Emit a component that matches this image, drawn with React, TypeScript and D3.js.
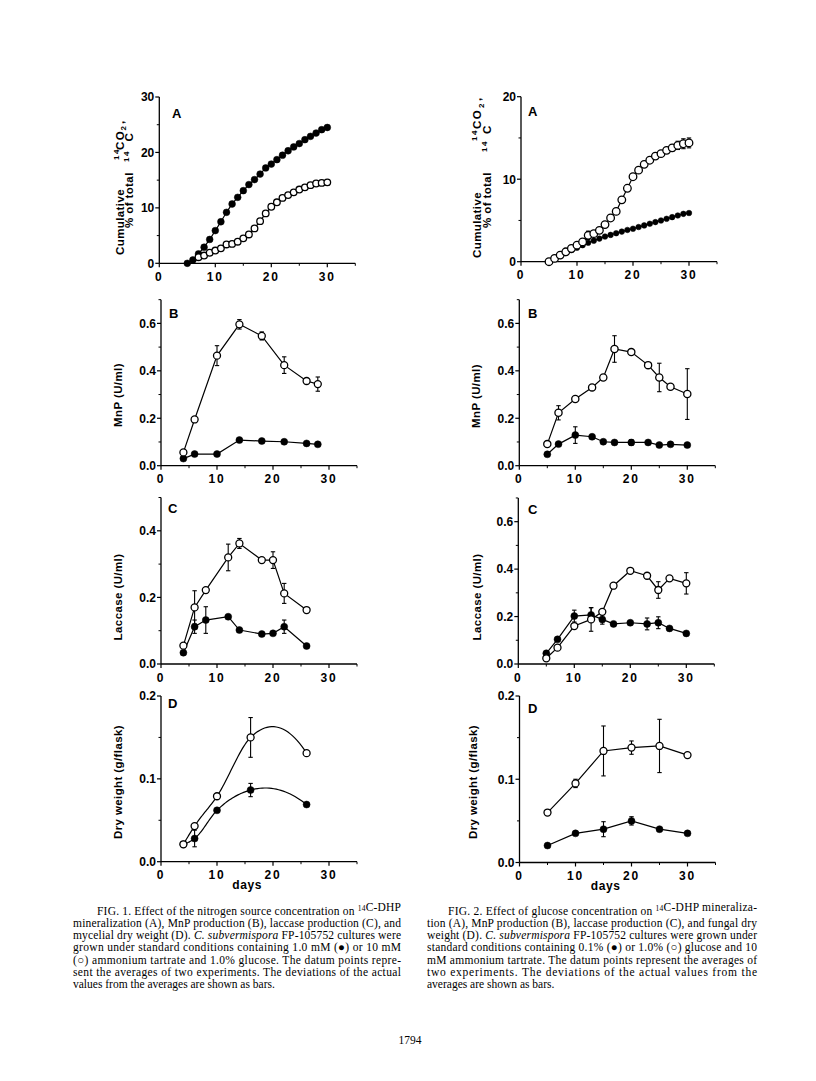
import React from "react";
import * as d3 from "d3";

// ================= FIG. 1 data =================
// A: cumulative 14CO2 (% of total 14C)
const f1aFilledDays = [5, 6, 7, 8, 9, 10, 11, 12, 13, 14, 15, 16, 17, 18, 19, 20, 21, 22, 23, 24, 25, 26, 27, 28, 29, 30];
const f1aFilled = [0, 0.6, 1.7, 2.9, 4.3, 5.9, 7.5, 9.2, 10.7, 11.9, 13.1, 14.2, 15.1, 16.1, 17.2, 17.9, 18.7, 19.5, 20.3, 21.0, 21.6, 22.3, 22.9, 23.5, 24.1, 24.5];
const f1aOpenDays = [7, 8, 9, 10, 11, 12, 13, 14, 15, 16, 17, 18, 19, 20, 21, 22, 23, 24, 25, 26, 27, 28, 29, 30];
const f1aOpen = [1.1, 1.4, 1.9, 2.3, 2.7, 3.4, 3.5, 3.9, 4.5, 5.2, 6.3, 7.6, 9.0, 10.2, 11.0, 11.8, 12.3, 12.8, 13.3, 13.7, 14.1, 14.4, 14.5, 14.6];
const f1aOpenErr = [0, 0, 0, 0, 0, 0, 0, 0, 0, 0, 0, 0, 0, 0, 0, 0, 0, 0, 0, 0, 0, 0, 0.4, 0.5];

// B: MnP (U/ml)
const f1bDays = [4, 6, 10, 14, 18, 22, 26, 28];
const f1bOpen = [0.056, 0.195, 0.464, 0.596, 0.547, 0.424, 0.357, 0.344];
const f1bOpenErr = [0, 0, 0.042, 0.02, 0.017, 0.035, 0, 0.03];
const f1bFilled = [0.03, 0.049, 0.049, 0.108, 0.104, 0.101, 0.094, 0.09];

// C: Laccase (U/ml)
const f1cDays = [4, 6, 8, 12, 14, 18, 20, 22, 26];
const f1cOpen = [0.055, 0.17, 0.222, 0.32, 0.362, 0.312, 0.312, 0.212, 0.162];
const f1cOpenErr = [0, 0.05, 0, 0.04, 0.015, 0, 0.025, 0.03, 0];
const f1cFilled = [0.034, 0.112, 0.132, 0.142, 0.102, 0.09, 0.092, 0.112, 0.054];
const f1cFilledErr = [0, 0.02, 0.04, 0, 0, 0, 0, 0.02, 0];

// D: Dry weight (g/flask)
const f1dDays = [4, 6, 10, 16, 26];
const f1dOpen = [0.021, 0.043, 0.079, 0.15, 0.131];
const f1dOpenErr = [0, 0, 0, 0.024, 0];
const f1dFilled = [0.021, 0.028, 0.062, 0.0865, 0.069];
const f1dFilledErr = [0, 0.01, 0, 0.008, 0];

// ================= FIG. 2 data =================
const f2aDays = [5, 6, 7, 8, 9, 10, 11, 12, 13, 14, 15, 16, 17, 18, 19, 20, 21, 22, 23, 24, 25, 26, 27, 28, 29, 30];
const f2aOpen = [0, 0.4, 0.8, 1.2, 1.6, 2.0, 2.4, 3.2, 3.4, 3.8, 4.5, 5.3, 6.1, 7.5, 8.9, 10.3, 11.1, 11.8, 12.3, 12.8, 13.1, 13.5, 13.8, 14.1, 14.3, 14.4];
const f2aOpenErr = [0, 0, 0, 0, 0, 0, 0, 0.5, 0, 0, 0, 0, 0, 0, 0, 0, 0, 0, 0, 0, 0, 0, 0.4, 0.5, 0.6, 0.6];
const f2aFilled = [0, 0.35, 0.7, 1.05, 1.4, 1.7, 2.0, 2.3, 2.55, 2.8, 3.05, 3.25, 3.45, 3.65, 3.85, 4.0, 4.2, 4.4, 4.6, 4.8, 5.0, 5.2, 5.4, 5.6, 5.8, 5.9];

const f2bDays = [5, 7, 10, 13, 15, 17, 20, 23, 25, 27, 30];
const f2bOpen = [0.091, 0.223, 0.281, 0.33, 0.372, 0.492, 0.479, 0.424, 0.372, 0.333, 0.302];
const f2bOpenErr = [0, 0.03, 0, 0, 0, 0.056, 0, 0, 0.06, 0, 0.107];
const f2bFilled = [0.048, 0.091, 0.129, 0.122, 0.101, 0.098, 0.098, 0.098, 0.087, 0.09, 0.087];
const f2bFilledErr = [0, 0, 0.035, 0, 0, 0, 0.012, 0, 0, 0, 0];

const f2cDays = [5, 7, 10, 13, 15, 17, 20, 23, 25, 27, 30];
const f2cOpen = [0.024, 0.069, 0.16, 0.188, 0.22, 0.33, 0.393, 0.372, 0.312, 0.361, 0.34];
const f2cOpenErr = [0, 0, 0, 0.05, 0, 0, 0, 0.012, 0.035, 0, 0.045];
const f2cFilled = [0.045, 0.104, 0.202, 0.207, 0.188, 0.169, 0.174, 0.169, 0.174, 0.15, 0.129];
const f2cFilledErr = [0, 0, 0.025, 0.03, 0.02, 0, 0, 0.025, 0.025, 0, 0];

const f2dDays = [5, 10, 15, 20, 25, 30];
const f2dOpen = [0.06, 0.095, 0.134, 0.138, 0.14, 0.129];
const f2dOpenErr = [0, 0.005, 0.03, 0.008, 0.032, 0];
const f2dFilled = [0.0204, 0.035, 0.04, 0.05, 0.04, 0.035];
const f2dFilledErr = [0, 0, 0.009, 0.005, 0, 0];

// axis ticks
const xMajor = [0, 10, 20, 30];
const xMinor = [5, 15, 25, 35];
const yTicksA1 = [0, 10, 20, 30];
const yMinorA1 = [5, 15, 25];
const yTicksA2 = [0, 10, 20];
const yMinorA2 = [5, 15];
const yTicksEnz = [0, 0.2, 0.4, 0.6];
const yMinorEnz = [0.1, 0.3, 0.5, 0.7];
const yTicksLac1 = [0, 0.2, 0.4];
const yMinorLac1 = [0.1, 0.3, 0.5];
const yTicksDW = [0, 0.1, 0.2];
const yMinorDW = [0.05, 0.15];

// captions
const cap1 = [
  "FIG. 1. Effect of the nitrogen source concentration on |14|C-DHP",
  "mineralization (A), MnP production (B), laccase production (C), and",
  "mycelial dry weight (D). _C. subvermispora_ FP-105752 cultures were",
  "grown under standard conditions containing 1.0 mM (●) or 10 mM",
  "(○) ammonium tartrate and 1.0% glucose. The datum points repre-",
  "sent the averages of two experiments. The deviations of the actual",
  "values from the averages are shown as bars.",
];
const cap2 = [
  "FIG. 2. Effect of glucose concentration on |14|C-DHP mineraliza-",
  "tion (A), MnP production (B), laccase production (C), and fungal dry",
  "weight (D). _C. subvermispora_ FP-105752 cultures were grown under",
  "standard conditions containing 0.1% (●) or 1.0% (○) glucose and 10",
  "mM ammonium tartrate. The datum points represent the averages of",
  "two experiments. The deviations of the actual values from the",
  "averages are shown as bars.",
];

const SANS = "'Liberation Sans', Arial, Helvetica, sans-serif";
const SERIF = "'Liberation Serif', 'Times New Roman', serif";

// smooth interpolating curve (cubic Hermite with parabolic/Bessel tangents)
function besselPoints(xs: number[], ys: number[], steps = 24): [number, number][] {
  const n = xs.length;
  if (n < 3) return xs.map((x, i) => [x, ys[i]]);
  const h: number[] = [];
  const d: number[] = [];
  for (let i = 0; i < n - 1; i++) {
    h.push(xs[i + 1] - xs[i]);
    d.push((ys[i + 1] - ys[i]) / (xs[i + 1] - xs[i]));
  }
  const m: number[] = new Array(n);
  m[0] = d[0] + ((d[0] - d[1]) * h[0]) / (h[0] + h[1]);
  for (let i = 1; i < n - 1; i++) m[i] = (h[i] * d[i - 1] + h[i - 1] * d[i]) / (h[i - 1] + h[i]);
  m[n - 1] = d[n - 2] + ((d[n - 2] - d[n - 3]) * h[n - 2]) / (h[n - 3] + h[n - 2]);
  const out: [number, number][] = [];
  for (let i = 0; i < n - 1; i++) {
    for (let s = 0; s <= steps; s++) {
      if (i > 0 && s === 0) continue;
      const t = s / steps;
      const t2 = t * t;
      const t3 = t2 * t;
      const h00 = 2 * t3 - 3 * t2 + 1;
      const h10 = t3 - 2 * t2 + t;
      const h01 = -2 * t3 + 3 * t2;
      const h11 = t3 - t2;
      out.push([
        xs[i] + t * h[i],
        h00 * ys[i] + h10 * h[i] * m[i] + h01 * ys[i + 1] + h11 * h[i] * m[i + 1],
      ]);
    }
  }
  return out;
}

type Series = { days: number[]; vals: number[]; errs?: number[]; filled: boolean; r: number };
type Cfg = {
  x0: number;
  yBase: number;
  yTop: number;
  yMax: number;
  major: number[];
  minor: number[];
  fmt: (v: number) => string;
  letter: string;
  lx: number;
  ly: number;
  series: Series[];
  smooth?: boolean;
  daysLabel?: boolean;
};

function Panel({ c }: { c: Cfg }) {
  const x = d3.scaleLinear().domain([0, 35]).range([c.x0, c.x0 + 35 * 5.6]);
  const y = d3.scaleLinear().domain([0, c.yMax]).range([c.yBase, c.yTop]);
  const line = d3
    .line<[number, number]>()
    .x((d) => x(d[0]))
    .y((d) => y(d[1]));
  return (
    <g>
      <line x1={c.x0} x2={c.x0} y1={c.yBase} y2={c.yTop} stroke="#000" strokeWidth={1.3} />
      <line x1={c.x0} x2={x(35)} y1={c.yBase} y2={c.yBase} stroke="#000" strokeWidth={1.3} />
      {c.major.map((v) => (
        <g key={"ym" + v}>
          <line x1={c.x0 - 4} x2={c.x0} y1={y(v)} y2={y(v)} stroke="#000" strokeWidth={1.2} />
          <text
            x={c.x0 - 5}
            y={y(v)}
            dy="0.36em"
            textAnchor="end"
            fontFamily={SANS}
            fontWeight="bold"
            fontSize={12}
          >
            {c.fmt(v)}
          </text>
        </g>
      ))}
      {c.minor.map((v) => (
        <line key={"yn" + v} x1={c.x0 - 2.5} x2={c.x0} y1={y(v)} y2={y(v)} stroke="#000" strokeWidth={1} />
      ))}
      {xMajor.map((v) => (
        <g key={"xm" + v}>
          <line x1={x(v)} x2={x(v)} y1={c.yBase} y2={c.yBase + 4} stroke="#000" strokeWidth={1.2} />
          <text
            x={x(v)}
            y={c.yBase + 17.5}
            textAnchor="middle"
            fontFamily={SANS}
            fontWeight="bold"
            fontSize={12}
            letterSpacing={1.8}
          >
            {v}
          </text>
        </g>
      ))}
      {xMinor.map((v) => (
        <line key={"xn" + v} x1={x(v)} x2={x(v)} y1={c.yBase} y2={c.yBase + 2.5} stroke="#000" strokeWidth={1} />
      ))}
      <text x={c.lx} y={c.ly} fontFamily={SANS} fontWeight="bold" fontSize={13}>
        {c.letter}
      </text>
      {c.daysLabel && (
        <text
          x={x(15.4)}
          y={c.yBase + 27}
          textAnchor="middle"
          fontFamily={SANS}
          fontWeight="bold"
          fontSize={12}
          letterSpacing={0.6}
        >
          days
        </text>
      )}
      {c.series.map((s, i) => {
        const pts: [number, number][] = c.smooth
          ? besselPoints(s.days, s.vals)
          : s.days.map((d, k) => [d, s.vals[k]] as [number, number]);
        return <path key={"l" + i} d={line(pts) || ""} fill="none" stroke="#000" strokeWidth={1.2} />;
      })}
      {c.series.map((s, i) =>
        (s.errs || []).map((e, k) =>
          e > 0 ? (
            <g key={"e" + i + "-" + k}>
              <line x1={x(s.days[k])} x2={x(s.days[k])} y1={y(s.vals[k] - e)} y2={y(s.vals[k] + e)} stroke="#000" strokeWidth={1.1} />
              <line x1={x(s.days[k]) - 2.2} x2={x(s.days[k]) + 2.2} y1={y(s.vals[k] + e)} y2={y(s.vals[k] + e)} stroke="#000" strokeWidth={1.1} />
              <line x1={x(s.days[k]) - 2.2} x2={x(s.days[k]) + 2.2} y1={y(s.vals[k] - e)} y2={y(s.vals[k] - e)} stroke="#000" strokeWidth={1.1} />
            </g>
          ) : null
        )
      )}
      {c.series.map((s, i) =>
        s.days.map((d, k) => (
          <circle
            key={"c" + i + "-" + k}
            cx={x(d)}
            cy={y(s.vals[k])}
            r={s.r}
            fill={s.filled ? "#000" : "#fff"}
            stroke="#000"
            strokeWidth={s.filled ? 0.5 : 1.3}
          />
        ))
      )}
    </g>
  );
}

function RotText({ x, y, children, size = 11.5 }: { x: number; y: number; children: React.ReactNode; size?: number }) {
  return (
    <text
      transform={`translate(${x},${y}) rotate(-90)`}
      textAnchor="middle"
      fontFamily={SANS}
      fontWeight="bold"
      fontSize={size}
      letterSpacing={0.4}
    >
      {children}
    </text>
  );
}

// a rotated fragment: baseline at page x = bx, text begins at page y = sy and runs upward
function Piece({ bx, sy, t, size = 11.5, ls = 0.4 }: { bx: number; sy: number; t: string; size?: number; ls?: number }) {
  return (
    <text
      transform="rotate(-90)"
      x={-sy}
      y={bx}
      fontFamily={SANS}
      fontWeight="bold"
      fontSize={size}
      letterSpacing={ls}
    >
      {t}
    </text>
  );
}

function CumLabel({ b1, b2, p }: { b1: number; b2: number; p: number[] }) {
  // p: [cumulative start, 14 start, CO start, 2 start, comma start, %oftotal start, 14 start, C start]
  return (
    <g>
      <Piece bx={b1} sy={p[0]} t="Cumulative" />
      <Piece bx={b1 - 4.5} sy={p[1]} t="14" size={8} ls={1.5} />
      <Piece bx={b1} sy={p[2]} t="CO" ls={1.5} />
      <Piece bx={b1 + 2.5} sy={p[3]} t="2" size={8} />
      <Piece bx={b1} sy={p[4]} t="," />
      <Piece bx={b2} sy={p[5]} t="% of total" />
      <Piece bx={b2 - 4.5} sy={p[6]} t="14" size={8} ls={1.5} />
      <Piece bx={b2} sy={p[7]} t="C" />
    </g>
  );
}

function Caption({ lines, x, indentX, right, y0 }: { lines: string[]; x: number; indentX: number; right: number; y0: number }) {
  return (
    <g fontFamily={SERIF} fontSize={11.5}>
      {lines.map((ln, i) => {
        const sx = i === 0 ? indentX : x;
        const last = i === lines.length - 1;
        const parts: React.ReactNode[] = [];
        const segs = ln.split(/(\|[^|]+\||_[^_]+_)/g);
        segs.forEach((sg, k) => {
          if (!sg) return;
          if (sg.startsWith("|")) {
            parts.push(
              <tspan key={k} fontSize={7.5} dy={-4}>
                {sg.slice(1, -1)}
              </tspan>
            );
            parts.push(
              <tspan key={k + "r"} dy={4}>
                {""}
              </tspan>
            );
          } else if (sg.startsWith("_")) {
            parts.push(
              <tspan key={k} fontStyle="italic">
                {sg.slice(1, -1)}
              </tspan>
            );
          } else {
            parts.push(<tspan key={k}>{sg}</tspan>);
          }
        });
        return (
          <text
            key={i}
            x={sx}
            y={y0 + i * 12.3}
            {...(last ? {} : { textLength: right - sx, lengthAdjust: "spacing" })}
          >
            {parts}
          </text>
        );
      })}
    </g>
  );
}

const fmt1 = (v: number) => d3.format(".1f")(v);
const fmt0 = (v: number) => String(v);

const panels: Cfg[] = [
  {
    x0: 159.3, yBase: 263.3, yTop: 97, yMax: 30, major: yTicksA1, minor: yMinorA1, fmt: fmt0,
    letter: "A", lx: 172, ly: 118,
    series: [
      { days: f1aFilledDays, vals: f1aFilled, filled: true, r: 3.4 },
      { days: f1aOpenDays, vals: f1aOpen, errs: f1aOpenErr, filled: false, r: 3.3 },
    ],
  },
  {
    x0: 161, yBase: 465.7, yTop: 465.7 - 0.7 * 237.2, yMax: 0.7, major: yTicksEnz, minor: yMinorEnz, fmt: fmt1,
    letter: "B", lx: 169, ly: 318,
    series: [
      { days: f1bDays, vals: f1bFilled, filled: true, r: 3.5 },
      { days: f1bDays, vals: f1bOpen, errs: f1bOpenErr, filled: false, r: 3.5 },
    ],
  },
  {
    x0: 161, yBase: 664, yTop: 664 - 0.5 * 333, yMax: 0.5, major: yTicksLac1, minor: yMinorLac1, fmt: fmt1,
    letter: "C", lx: 168, ly: 513,
    series: [
      { days: f1cDays, vals: f1cFilled, errs: f1cFilledErr, filled: true, r: 3.5 },
      { days: f1cDays, vals: f1cOpen, errs: f1cOpenErr, filled: false, r: 3.5 },
    ],
  },
  {
    x0: 161, yBase: 861.7, yTop: 696, yMax: 0.2, major: yTicksDW, minor: yMinorDW, fmt: fmt1,
    letter: "D", lx: 168, ly: 708, smooth: true, daysLabel: true,
    series: [
      { days: f1dDays, vals: f1dFilled, errs: f1dFilledErr, filled: true, r: 3.5 },
      { days: f1dDays, vals: f1dOpen, errs: f1dOpenErr, filled: false, r: 3.5 },
    ],
  },
  {
    x0: 521, yBase: 261.7, yTop: 96.7, yMax: 20, major: yTicksA2, minor: yMinorA2, fmt: fmt0,
    letter: "A", lx: 528, ly: 116,
    series: [
      { days: f2aDays, vals: f2aFilled, filled: true, r: 2.8 },
      { days: f2aDays, vals: f2aOpen, errs: f2aOpenErr, filled: false, r: 3.8 },
    ],
  },
  {
    x0: 519.3, yBase: 465.7, yTop: 465.7 - 0.7 * 237.2, yMax: 0.7, major: yTicksEnz, minor: yMinorEnz, fmt: fmt1,
    letter: "B", lx: 528, ly: 318,
    series: [
      { days: f2bDays, vals: f2bFilled, errs: f2bFilledErr, filled: true, r: 3.5 },
      { days: f2bDays, vals: f2bOpen, errs: f2bOpenErr, filled: false, r: 3.6 },
    ],
  },
  {
    x0: 518.3, yBase: 664, yTop: 664 - 0.7 * 237.2, yMax: 0.7, major: yTicksEnz, minor: yMinorEnz, fmt: fmt1,
    letter: "C", lx: 528, ly: 514,
    series: [
      { days: f2cDays, vals: f2cFilled, errs: f2cFilledErr, filled: true, r: 3.5 },
      { days: f2cDays, vals: f2cOpen, errs: f2cOpenErr, filled: false, r: 3.5 },
    ],
  },
  {
    x0: 519.5, yBase: 862.5, yTop: 696, yMax: 0.2, major: yTicksDW, minor: yMinorDW, fmt: fmt1,
    letter: "D", lx: 528, ly: 713, daysLabel: true,
    series: [
      { days: f2dDays, vals: f2dFilled, errs: f2dFilledErr, filled: true, r: 3.5 },
      { days: f2dDays, vals: f2dOpen, errs: f2dOpenErr, filled: false, r: 3.5 },
    ],
  },
];

export default function App() {
  return (
    <svg
      width={816}
      height={1081}
      viewBox="0 0 816 1081"
      style={{ position: "absolute", left: 0, top: 0, background: "#fff" }}
    >
      <rect x={0} y={0} width={816} height={1081} fill="#fff" />
      {panels.map((p, i) => (
        <Panel key={i} c={p} />
      ))}
      {/* y-axis titles, Fig. 1 */}
      <CumLabel b1={123.5} b2={133} p={[255, 160, 150, 130.5, 124, 228, 162, 141.5]} />
      <RotText x={121.5} y={395}>MnP  (U/ml)</RotText>
      <RotText x={121.5} y={597}>Laccase  (U/ml)</RotText>
      <RotText x={121.5} y={782}>Dry  weight  (g/flask)</RotText>
      {/* y-axis titles, Fig. 2 */}
      <CumLabel b1={481} b2={491} p={[258, 141, 129, 108, 101, 228, 152, 134]} />
      <RotText x={480} y={396}>MnP  (U/ml)</RotText>
      <RotText x={481} y={597}>Laccase  (U/ml)</RotText>
      <RotText x={477} y={782}>Dry  weight  (g/flask)</RotText>
      {/* captions */}
      <Caption lines={cap1} x={73} indentX={97} right={401} y0={914.5} />
      <Caption lines={cap2} x={427} indentX={448} right={757} y0={914.5} />
      <text x={410} y={1044} textAnchor="middle" fontFamily={SERIF} fontSize={11.5}>
        1794
      </text>
    </svg>
  );
}
